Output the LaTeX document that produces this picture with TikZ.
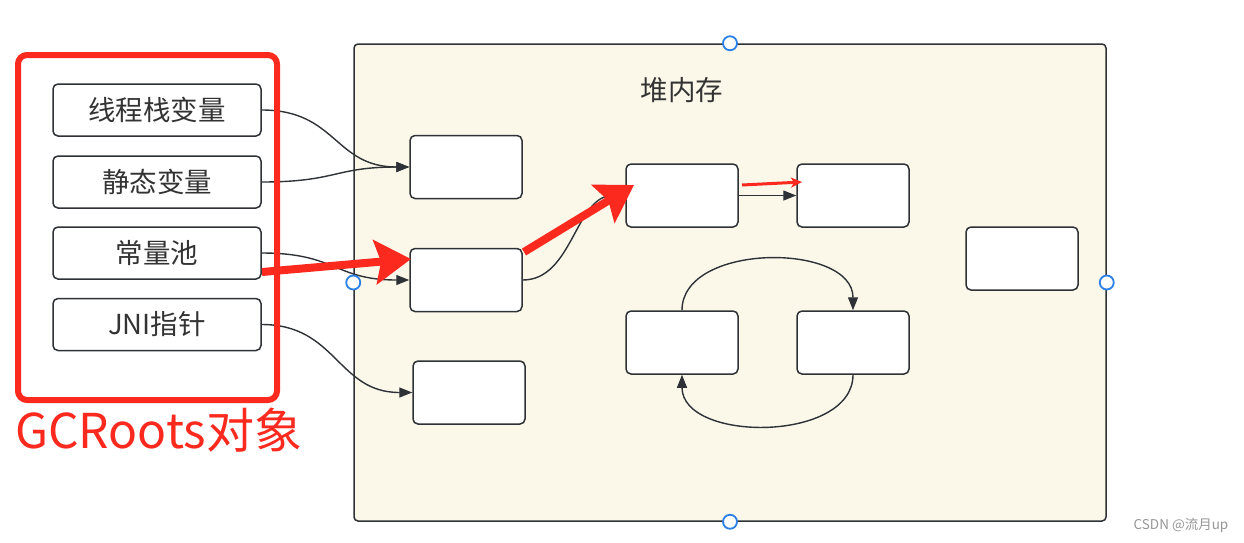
\documentclass[tikz,border=0pt]{standalone}
\usepackage{fontspec}
\setmainfont{Noto Sans CJK SC}
\usetikzlibrary{arrows.meta,calc}
\definecolor{heapbg}{RGB}{251,248,234}
\definecolor{boxline}{RGB}{46,50,54}
\definecolor{txt}{RGB}{51,51,51}
\definecolor{redmark}{RGB}{252,42,30}
\definecolor{handle}{RGB}{43,127,230}
\definecolor{wm}{RGB}{150,150,150}
\tikzset{
  objbox/.style={draw=boxline, line width=1.5pt, fill=white, rounded corners=5pt,
    minimum width=112pt, minimum height=63pt, inner sep=0pt},
  rootbox/.style={draw=boxline, line width=1.5pt, fill=white, rounded corners=5pt,
    minimum width=208pt, minimum height=52pt, inner sep=0pt, text=txt, font=\fontsize{27.5}{30}\selectfont},
  conn/.style={draw=boxline, line width=1.4pt, -{Triangle[length=13pt,width=10pt]}},
  bigred/.style={draw=redmark, line width=8pt, -{Stealth[length=36pt,width=44pt,inset=6pt]}},
  smallred/.style={draw=redmark, line width=3pt, -{Stealth[length=11pt,width=10pt,inset=3pt]}},
  handlecirc/.style={circle, draw=handle, fill=white, line width=1.8pt, minimum size=14pt, inner sep=0pt},
}
\begin{document}
\begin{tikzpicture}[x=1pt,y=-1pt]
\useasboundingbox (0,0) rectangle (1244,542);
% heap
\node[draw=boxline, line width=1.5pt, fill=heapbg, rounded corners=4pt,
  minimum width=752pt, minimum height=477pt, inner sep=0pt] (heap) at (730,282.5) {};
\node[text=txt, font=\fontsize{27.5}{30}\selectfont] (title) at (682,90) {堆内存};
% roots
\node[rootbox] (r1) at (157,110) {线程栈变量};
\node[rootbox] (r2) at (157,182) {静态变量};
\node[rootbox] (r3) at (157,253) {常量池};
\node[rootbox] (r4) at (157,324.5) {JNI指针};
% objects
\node[objbox] (A) at (466,167) {};
\node[objbox] (B) at (466,280) {};
\node[objbox] (C) at (469,392.5) {};
\node[objbox] (D) at (682,195.5) {};
\node[objbox] (E) at (853,195.5) {};
\node[objbox] (F) at (1022,258.5) {};
\node[objbox] (G) at (682,342.5) {};
\node[objbox] (H) at (853,342.5) {};
% connectors
\draw[conn] (r1.east) .. controls +(75,0) and +(-75,0) .. (A.west);
\draw[conn] (r2.east) .. controls +(75,0) and +(-75,0) .. (A.west);
\draw[conn] (r3.east) .. controls +(75,0) and +(-75,0) .. (B.west);
\draw[conn] (r4.east) .. controls +(75,0) and +(-75,0) .. (C.west);
\draw[conn] (B.east) .. controls +(50,0) and +(-50,0) .. (D.west);
\draw[conn] (D.east) -- (E.west);
\draw[conn] (G.north) .. controls +(0,-68) and +(0,-68) .. (H.north);
\draw[conn] (H.south) .. controls +(0,68) and +(0,68) .. (G.south);
% handles
\node[handlecirc] (h1) at (heap.north) {};
\node[handlecirc] (h2) at (heap.south) {};
\node[handlecirc] (h3) at (heap.west) {};
\node[handlecirc] (h4) at (heap.east) {};
% red annotations
\node[draw=redmark, line width=6pt, rounded corners=9pt, minimum width=259pt, minimum height=345pt, inner sep=0pt] (gcbox) at (147.5,227.5) {};
\node[text=redmark, font=\fontsize{48}{52}\selectfont, anchor=west, inner sep=0pt] (gclabel) at (15,430) {GCRoots对象};
\coordinate (ra1s) at (262,272);
\coordinate (ra1e) at (411,259);
\coordinate (ra2s) at (524,252);
\coordinate (ra2e) at (634,185);
\coordinate (ra3s) at (742,185);
\coordinate (ra3e) at (802,182);
\draw[bigred] (ra1s) -- (ra1e);
\draw[bigred] (ra2s) -- (ra2e);
\draw[smallred] (ra3s) -- (ra3e);
% watermark
\node[text=wm, font=\fontsize{13.5}{15}\selectfont] (wmark) at (1181,525) {CSDN @流月up};
\end{tikzpicture}
\end{document}
